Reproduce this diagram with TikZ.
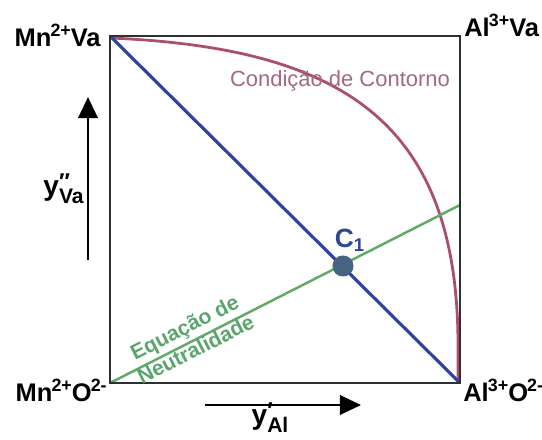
\documentclass[tikz,border=0pt]{standalone}
\usepackage{fontspec}
\setmainfont{Liberation Sans}
\usetikzlibrary{arrows.meta}
\definecolor{boxc}{RGB}{45,50,48}
\definecolor{diagc}{RGB}{50,65,160}
\definecolor{neutc}{RGB}{95,170,100}
\definecolor{neuttxt}{RGB}{90,165,110}
\definecolor{curvc}{RGB}{170,80,110}
\definecolor{curvtxt}{RGB}{165,105,120}
\definecolor{dotc}{RGB}{70,100,130}
\definecolor{c1c}{RGB}{45,70,150}
\tikzset{
  corner/.style={font=\fontsize{14.5}{16}\selectfont\bfseries, inner sep=0pt, text=black},
  axisarrow/.style={line width=1.6pt, -{Triangle[length=12pt,width=11pt]}},
  axlabel/.style={font=\fontsize{16}{17}\selectfont\bfseries, inner sep=0pt}
}
\newcommand{\sps}[1]{\textsuperscript{\kern-0.5pt#1\kern-0.5pt}}
\begin{document}
\begin{tikzpicture}[x=0.02cm,y=-0.02cm]
\useasboundingbox (0,0) rectangle (542,440);
% corners
\coordinate (TL) at (110,36);
\coordinate (TR) at (460,36);
\coordinate (BL) at (110,383);
\coordinate (BR) at (460,383);
\coordinate (NR) at (460,205);
% curve
\draw[curvc, line width=1.6pt] (111,38) .. controls (340,48) and (456,120) .. (458,340) -- (458,383);
% diagonal
\draw[diagc, line width=1.8pt] (TL) -- (BR);
% neutrality line
\draw[neutc, line width=1.4pt] (BL) -- (NR);
% box
\draw[boxc, line width=1.7pt] (TL) -- (TR) -- (BR) -- (BL) -- cycle;
% C1
\node[circle, fill=dotc, minimum size=12pt, inner sep=0pt] (C1) at (343,266) {};
\node[font=\fontsize{15}{16}\selectfont\bfseries, text=c1c, inner sep=0pt] (C1lab) at (350,240) {C\textsubscript{1}};
% labels of lines
\node[font=\fontsize{12.5}{13}\selectfont, text=curvtxt, inner sep=0pt] (cc) at (340,81) {Condição de Contorno};
\node[font=\fontsize{12}{14}\selectfont\bfseries, text=neuttxt, rotate=27, align=center, inner sep=0pt] (eq) at (190,338) {Equação de\\Neutralidade};
% corner labels
\node[corner, anchor=base east] (mnva) at (101,46) {Mn\sps{2+}Va};
\node[corner, anchor=base west] (alva) at (464,36) {Al\sps{3+}Va};
\node[corner, anchor=base east] (mno) at (107,401) {Mn\sps{2+}O\sps{2-}};
\node[corner, anchor=base west] (alo) at (463,401) {Al\sps{3+}O\sps{2-}};
% axis arrows
\coordinate (va0) at (88,260);
\coordinate (va1) at (88,97);
\draw[axisarrow] (va0) -- (va1);
\coordinate (al0) at (205,405);
\coordinate (al1) at (361,405);
\draw[axisarrow] (al0) -- (al1);
\node[axlabel, anchor=base east] (yva) at (84,195) {y\makebox[0pt][l]{\raisebox{0.35ex}{\fontsize{13}{13}\selectfont ″}}\raisebox{-0.6ex}{\fontsize{12}{13}\selectfont Va}};
\node[axlabel, anchor=base] (yal) at (270,424) {y\makebox[0pt][l]{\raisebox{0.35ex}{\fontsize{13}{13}\selectfont ′}}\raisebox{-0.6ex}{\fontsize{12}{13}\selectfont Al}};
\end{tikzpicture}
\end{document}
